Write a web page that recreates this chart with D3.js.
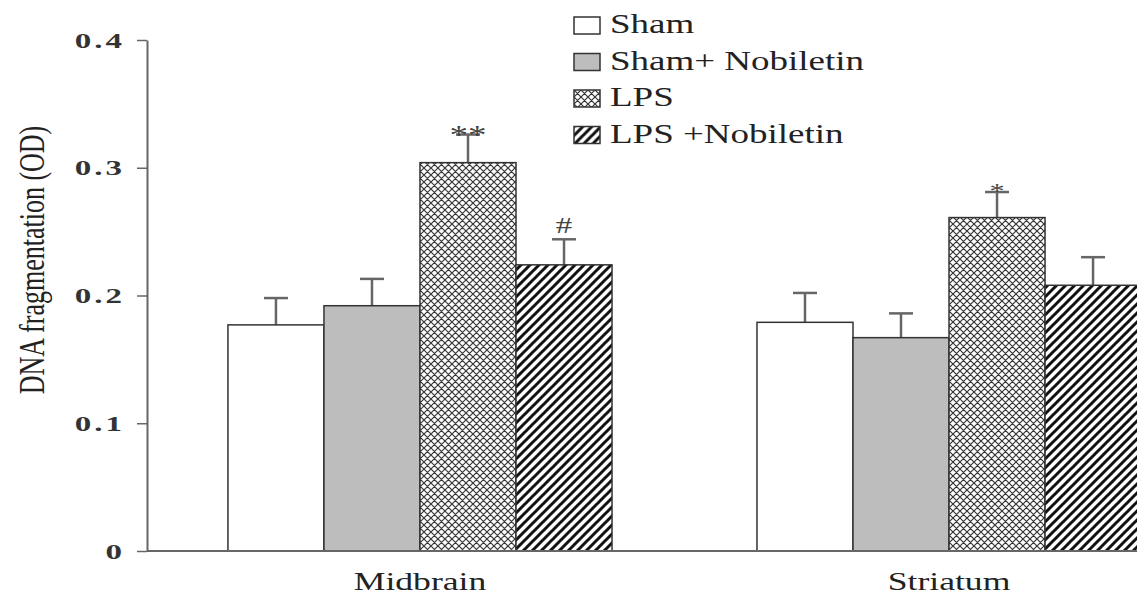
<!DOCTYPE html>
<html>
<head>
<meta charset="utf-8">
<script src="https://cdn.jsdelivr.net/npm/d3@7"></script>
<style>
  body { margin: 0; background: #fff; }
  svg text { font-family: "Liberation Serif", "DejaVu Serif", serif; }
</style>
</head>
<body>
<svg id="chart" width="1137" height="599"></svg>
<script>
const regions = ["Midbrain", "Striatum"];
const groups = ["Sham", "Sham+ Nobiletin", "LPS", "LPS +Nobiletin"];
const means = [
    [0.177, 0.192, 0.304, 0.224],
    [0.179, 0.167, 0.261, 0.208]
];
const errors = [
    [0.021, 0.021, 0.022, 0.020],
    [0.023, 0.019, 0.020, 0.022]
];
const marks = [
    ["", "", "**", "#"],
    ["", "", "*", ""]
];
const yTicks = [0, 0.1, 0.2, 0.3, 0.4];

// the original picture is stretched sideways, so text is too
const stretch = 1.37;

const svg = d3.select("#chart");

const margin = {left: 147, top: 40, bottom: 48};
const height = 599 - margin.bottom;

const y = d3.scaleLinear().domain([0, 0.4]).range([height, margin.top]);

const x0 = d3.scaleBand()
    .domain(regions)
    .range([147, 1222])
    .paddingInner(0.274)
    .paddingOuter(0.153);

const x1 = d3.scaleBand()
    .domain(groups)
    .range([0, x0.bandwidth()]);

// patterns
const defs = svg.append("defs");

const cross = defs.append("pattern")
    .attr("id", "cross")
    .attr("patternUnits", "userSpaceOnUse")
    .attr("width", 7)
    .attr("height", 7);
cross.append("rect").attr("width", 7).attr("height", 7).attr("fill", "#fff");
cross.append("path")
    .attr("d", "M0,0L7,7M7,0L0,7M-1,6L1,8M6,-1L8,1M-1,1L1,-1M6,8L8,6")
    .attr("stroke", "#333")
    .attr("stroke-width", 1.2);

const stripe = defs.append("pattern")
    .attr("id", "stripe")
    .attr("patternUnits", "userSpaceOnUse")
    .attr("width", 9)
    .attr("height", 9);
stripe.append("rect").attr("width", 9).attr("height", 9).attr("fill", "#fff");
stripe.append("path")
    .attr("d", "M0,9L9,0M-2,2L2,-2M7,11L11,7")
    .attr("stroke", "#111")
    .attr("stroke-width", 3);

const fills = {
    "Sham": "#fff",
    "Sham+ Nobiletin": "#bdbdbd",
    "LPS": "url(#cross)",
    "LPS +Nobiletin": "url(#stripe)"
};

// offset of significance marks from the error cap
const markShift = {"**": 9, "*": 6, "#": -6};
const markSize = {"**": "27px", "*": "22px", "#": "24px"};

// bars
regions.forEach((r, i) => {
    const g = svg.append("g").attr("transform", "translate(" + x0(r) + ",0)");
    groups.forEach((k, j) => {
        const bx = x1(k);
        const cx = bx + x1.bandwidth() / 2;
        const top = y(means[i][j]);
        const errTop = y(means[i][j] + errors[i][j]);

        g.append("line")
            .attr("x1", cx).attr("x2", cx)
            .attr("y1", top).attr("y2", errTop)
            .attr("stroke", "#666")
            .attr("stroke-width", 2.5);
        g.append("line")
            .attr("x1", cx - 12).attr("x2", cx + 12)
            .attr("y1", errTop).attr("y2", errTop)
            .attr("stroke", "#666")
            .attr("stroke-width", 2.5);

        g.append("rect")
            .attr("x", bx)
            .attr("y", top)
            .attr("width", x1.bandwidth())
            .attr("height", height - top)
            .attr("fill", fills[k])
            .attr("stroke", "#333")
            .attr("stroke-width", 1.5);

        const m = marks[i][j];
        if (m) {
            g.append("text")
                .attr("transform", "translate(" + cx + "," + (errTop + markShift[m]) + ") scale(" + stretch + ",1)")
                .attr("text-anchor", "middle")
                .style("font-size", markSize[m])
                .style("fill", "#444")
                .text(m);
        }
    });
});

// y axis
const yAxis = svg.append("g")
    .attr("transform", "translate(" + margin.left + ",0)")
    .call(d3.axisLeft(y).tickValues(yTicks).tickSize(10).tickSizeOuter(0)
        .tickFormat(d => d === 0 ? "0" : d3.format(".1f")(d)));
yAxis.select(".domain").attr("stroke", "#666").attr("stroke-width", 2);
yAxis.selectAll(".tick line").attr("stroke", "#666").attr("stroke-width", 1.5);
yAxis.selectAll(".tick text")
    .attr("x", 0)
    .attr("transform", "translate(-22,0) scale(1.5,1)")
    .style("font-family", "'Liberation Serif', serif")
    .style("font-size", "22px")
    .style("font-weight", "bold")
    .style("letter-spacing", "2px")
    .style("fill", "#333");

// x axis
svg.append("line")
    .attr("x1", margin.left).attr("x2", 1137)
    .attr("y1", height).attr("y2", height)
    .attr("stroke", "#666")
    .attr("stroke-width", 2);

regions.forEach(r => {
    svg.append("text")
        .attr("transform", "translate(" + (x0(r) + x0.bandwidth() / 2) + ",590) scale(" + stretch + ",1)")
        .attr("text-anchor", "middle")
        .style("font-size", "26px")
        .style("fill", "#222")
        .text(r);
});

// y label
svg.append("text")
    .attr("transform", "translate(44,260) scale(" + stretch + ",1) rotate(-90)")
    .attr("text-anchor", "middle")
    .style("font-size", "26px")
    .style("fill", "#222")
    .text("DNA fragmentation (OD)");

// legend
const legend = svg.append("g").attr("transform", "translate(574,17)");
groups.forEach((k, j) => {
    const row = legend.append("g").attr("transform", "translate(0," + (j * 36.5) + ")");
    row.append("rect")
        .attr("width", 26).attr("height", 17)
        .attr("fill", fills[k])
        .attr("stroke", "#333")
        .attr("stroke-width", 1.5);
    row.append("text")
        .attr("transform", "translate(36,16) scale(" + stretch + ",1)")
        .style("font-size", "27px")
        .style("fill", "#222")
        .text(k);
});
</script>
</body>
</html>
